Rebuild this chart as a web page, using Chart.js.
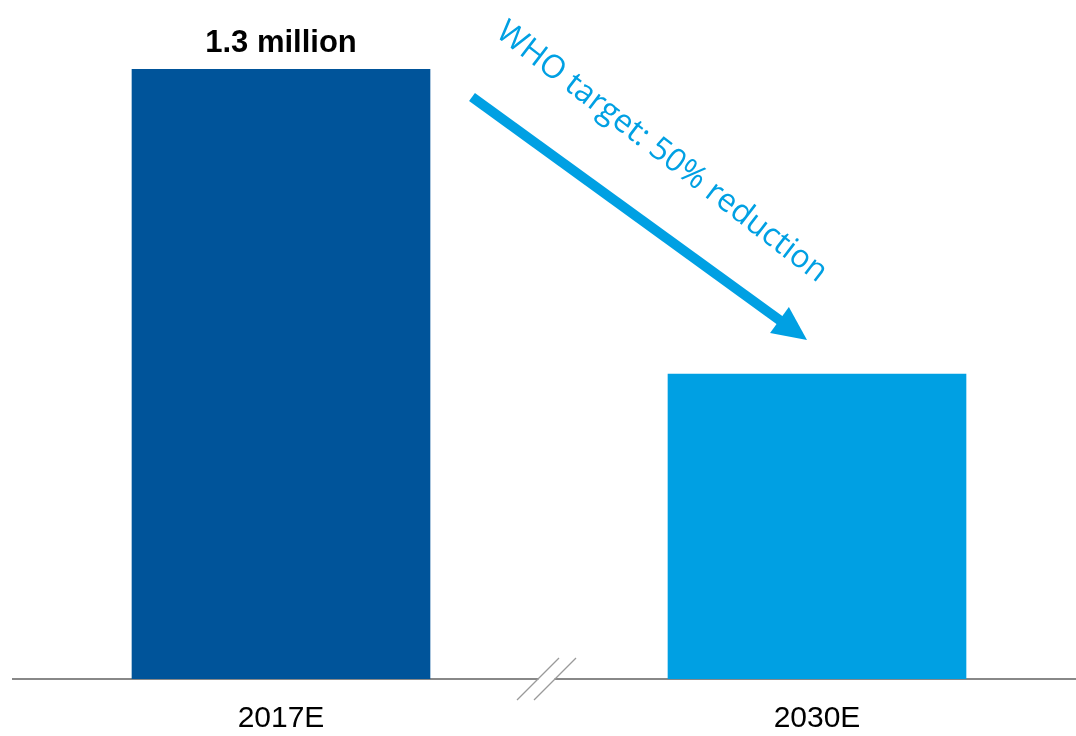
<!DOCTYPE html>
<html>
<head>
<meta charset="utf-8">
<script src="https://cdn.jsdelivr.net/npm/chart.js"></script>
<style>
  html, body { margin: 0; padding: 0; background: #fff; overflow: hidden; }
  #wrap { width: 1076px; height: 736px; overflow: hidden; }
</style>
</head>
<body>
<div id="wrap"><canvas id="chart" width="1090" height="761"></canvas></div>
<script>
const years = ['2017E', '2030E'];
const deaths = [1.3, 0.65];          // million
const barColors = ['#00549A', '#00A0E3'];
const valueLabels = ['1.3 million', ''];
const arrowText = 'WHO target: 50% reduction';

// labels, break marks and the target arrow
const extras = {
  id: 'extras',
  afterDatasetsDraw(chart) {
    const ctx = chart.ctx;
    const x = chart.scales.x;
    const bars = chart.getDatasetMeta(0).data;

    ctx.save();
    ctx.fillStyle = '#000';
    ctx.font = 'bold 31px "Liberation Sans", Arial, sans-serif';
    ctx.textAlign = 'center';
    ctx.textBaseline = 'alphabetic';
    bars.forEach((b, i) => {
      if (valueLabels[i]) ctx.fillText(valueLabels[i], b.x, b.y - 17);
    });

    // axis break
    const mid = (x.getPixelForValue(0) + x.getPixelForValue(1)) / 2 - 2.5;
    const base = chart.chartArea.bottom;
    ctx.fillStyle = '#fff';
    ctx.fillRect(mid - 8, base - 3, 16, 6);
    ctx.strokeStyle = '#9a9a9a';
    ctx.lineWidth = 1.3;
    [-8.5, 8.5].forEach(off => {
      ctx.beginPath();
      ctx.moveTo(mid + off - 21, base + 21);
      ctx.lineTo(mid + off + 21, base - 21);
      ctx.stroke();
    });

    // arrow from first bar towards second
    const b0 = bars[0], b1 = bars[1];
    const sx = b0.x + b0.width / 2 + 42, sy = b0.y + 28;
    const tx = b1.x - 10, ty = b1.y - 34;
    const ang = Math.atan2(ty - sy, tx - sx);
    const dx = Math.cos(ang), dy = Math.sin(ang);
    const headLen = 34, headHalf = 16;
    ctx.strokeStyle = '#00A0E3';
    ctx.fillStyle = '#00A0E3';
    ctx.lineWidth = 10;
    ctx.beginPath();
    ctx.moveTo(sx, sy);
    ctx.lineTo(tx - dx * (headLen - 2), ty - dy * (headLen - 2));
    ctx.stroke();
    const bx = tx - dx * headLen, by = ty - dy * headLen;
    ctx.beginPath();
    ctx.moveTo(tx, ty);
    ctx.lineTo(bx - dy * headHalf, by + dx * headHalf);
    ctx.lineTo(bx + dy * headHalf, by - dx * headHalf);
    ctx.closePath();
    ctx.fill();

    // rotated annotation text above the arrow
    const px = sx - 18 * dx + 63 * dy, py = sy - 18 * dy - 63 * dx;
    ctx.translate(px, py);
    ctx.rotate(ang + 1.5 * Math.PI / 180);
    ctx.font = '32px "Open Sans", sans-serif';
    ctx.textAlign = 'left';
    ctx.fillText(arrowText, 0, 0);
    ctx.restore();
  }
};

new Chart(document.getElementById('chart'), {
  type: 'bar',
  data: {
    labels: years,
    datasets: [{
      data: deaths,
      backgroundColor: barColors,
      borderWidth: 0,
      barThickness: 298
    }]
  },
  options: {
    responsive: false,
    animation: false,
    layout: { padding: { left: 13, right: 5, top: 69, bottom: 2 } },
    plugins: { legend: { display: false }, tooltip: { enabled: false } },
    scales: {
      y: { display: false, min: 0, max: 1.3 },
      x: {
        grid: { display: false, drawTicks: false },
        border: { display: true, color: '#888', width: 2 },
        ticks: {
          color: '#000',
          padding: 22,
          font: { family: '"Liberation Sans", Arial, sans-serif', size: 30 }
        }
      }
    }
  },
  plugins: [extras]
});
</script>
</body>
</html>
